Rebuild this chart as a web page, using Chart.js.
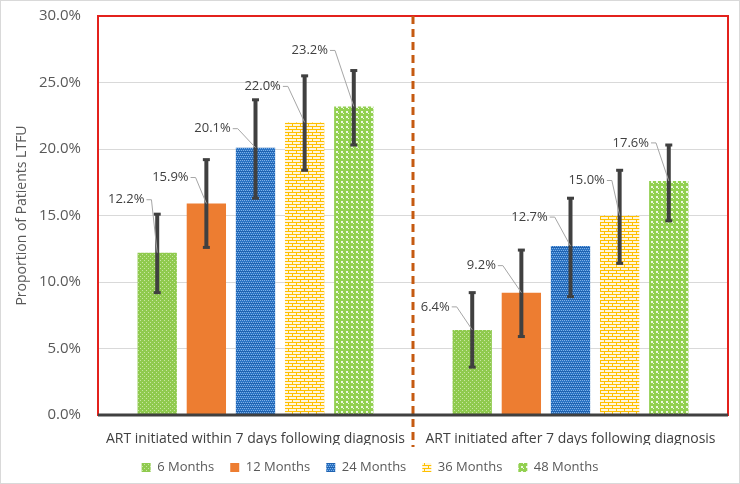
<!DOCTYPE html>
<html>
<head>
<meta charset="utf-8">
<script src="https://cdn.jsdelivr.net/npm/chart.js@4.4.1/dist/chart.umd.min.js"></script>
<style>
  html, body { margin: 0; padding: 0; background: #fff; }
  canvas { display: block; }
</style>
</head>
<body>
<canvas id="chart" width="740" height="484"></canvas>
<script>
// groups on the x axis
const groups = [
  "ART initiated within 7 days following diagnosis",
  "ART initiated after 7 days following diagnosis",
];
const seriesNames = ["6 Months", "12 Months", "24 Months", "36 Months", "48 Months"];

// proportion LTFU (%), one value per group
const m6 = [12.2, 6.4];
const m12 = [15.9, 9.2];
const m24 = [20.1, 12.7];
const m36 = [22.0, 15.0];
const m48 = [23.2, 17.6];

// error bar ends (%)
const m6Low = [9.2, 3.6], m6High = [15.1, 9.2];
const m12Low = [12.6, 5.9], m12High = [19.2, 12.4];
const m24Low = [16.3, 8.9], m24High = [23.7, 16.3];
const m36Low = [18.4, 11.4], m36High = [25.5, 18.4];
const m48Low = [20.3, 14.6], m48High = [25.9, 20.3];

const yTicks = [0, 5, 10, 15, 20, 25, 30];

const FONT = "'Open Sans', sans-serif";

// label placement relative to top-centre of each bar (px), like Excel's dragged labels
const labelOffsets = [
  [[-31, -53], [-37, -23]],
  [[-36, -26], [-40, -27]],
  [[-43, -19], [-41, -29]],
  [[-42, -36], [-33, -35]],
  [[-44, -56], [-38, -38]],
];

function tile(w, h, draw) {
  const c = document.createElement("canvas");
  c.width = w;
  c.height = h;
  const g = c.getContext("2d");
  draw(g);
  return g.createPattern(c, "repeat");
}

const pat6 = tile(4, 4, (g) => {
  g.fillStyle = "#8fca4e";
  g.fillRect(0, 0, 4, 4);
  g.fillStyle = "#c8e6a2";
  g.fillRect(0, 0, 1, 1);
  g.fillRect(2, 2, 1, 1);
});

const pat24 = tile(4, 4, (g) => {
  g.fillStyle = "#2a73c4";
  g.fillRect(0, 0, 4, 4);
  g.fillStyle = "#7fb0e6";
  g.fillRect(0, 0, 1, 1);
  g.fillRect(2, 0, 1, 1);
  g.fillRect(1, 2, 1, 1);
  g.fillRect(3, 2, 1, 1);
  g.fillStyle = "#1f62b0";
  g.fillRect(0, 3, 4, 1);
});

const pat36 = tile(8, 6, (g) => {
  g.fillStyle = "#fff6dc";
  g.fillRect(0, 0, 8, 6);
  g.fillStyle = "#ffc000";
  g.fillRect(0, 0, 8, 1);
  g.fillRect(0, 3, 8, 1);
  g.fillRect(0, 1, 1, 2);
  g.fillRect(4, 4, 1, 2);
});

const pat48 = tile(5, 5, (g) => {
  g.fillStyle = "#92d050";
  g.fillRect(0, 0, 5, 5);
  g.fillStyle = "#eef8e4";
  g.fillRect(1, 1, 2, 2);
  g.fillRect(3, 3, 1, 1);
});

const values = [m6, m12, m24, m36, m48];
const lows = [m6Low, m12Low, m24Low, m36Low, m48Low];
const highs = [m6High, m12High, m24High, m36High, m48High];
const fills = [pat6, "#ed7d31", pat24, pat36, pat48];

const decor = {
  id: "decor",
  beforeDraw(chart) {
    const ctx = chart.ctx;
    ctx.save();
    ctx.fillStyle = "#fff";
    ctx.fillRect(0, 0, chart.width, chart.height);
    ctx.strokeStyle = "#d9d9d9";
    ctx.lineWidth = 1;
    ctx.strokeRect(0.5, 0.5, chart.width - 1, chart.height - 1);
    ctx.restore();
  },
  beforeDatasetsDraw(chart) {
    const { ctx, chartArea: a } = chart;
    ctx.save();
    // red plot frame
    ctx.strokeStyle = "#e3211c";
    ctx.lineWidth = 2;
    ctx.strokeRect(a.left, a.top, a.right - a.left, a.bottom - a.top);
    // dashed divider between the two groups
    const mid = (a.left + a.right) / 2;
    ctx.strokeStyle = "#c55a11";
    ctx.lineWidth = 3;
    ctx.setLineDash([8, 5]);
    ctx.beginPath();
    ctx.moveTo(mid, a.top);
    ctx.lineTo(mid, a.bottom + 32);
    ctx.stroke();
    ctx.restore();
  },
  afterDatasetsDraw(chart) {
    const { ctx, chartArea: a } = chart;
    const y = chart.scales.y;
    ctx.save();
    // category axis line
    ctx.strokeStyle = "#404040";
    ctx.lineWidth = 3;
    ctx.beginPath();
    ctx.moveTo(a.left, a.bottom);
    ctx.lineTo(a.right, a.bottom);
    ctx.stroke();

    values.forEach((vals, di) => {
      const meta = chart.getDatasetMeta(di);
      meta.data.forEach((bar, i) => {
        const x = bar.x;
        // error bar
        const yHi = y.getPixelForValue(highs[di][i]);
        const yLo = y.getPixelForValue(lows[di][i]);
        ctx.strokeStyle = "#404040";
        ctx.lineWidth = 4;
        ctx.beginPath();
        ctx.moveTo(x, yHi);
        ctx.lineTo(x, yLo);
        ctx.stroke();
        ctx.fillStyle = "#404040";
        ctx.fillRect(x - 3.5, yHi - 1.5, 7, 3);
        ctx.fillRect(x - 3.5, yLo - 1.5, 7, 3);

        // data label + leader line
        const [dx, dy] = labelOffsets[di][i];
        const txt = vals[i].toFixed(1) + "%";
        ctx.font = "13px " + FONT;
        const w = ctx.measureText(txt).width;
        const lx = bar.x + dx, ly = bar.y + dy;
        ctx.fillStyle = "#404040";
        ctx.textAlign = "center";
        ctx.textBaseline = "middle";
        ctx.fillText(txt, lx, ly);
        ctx.strokeStyle = "#a6a6a6";
        ctx.lineWidth = 1;
        ctx.beginPath();
        ctx.moveTo(lx + w / 2 + 2, ly);
        ctx.lineTo(lx + w / 2 + 7, ly);
        ctx.lineTo(bar.x, bar.y);
        ctx.stroke();
      });
    });
    ctx.restore();
  },
};

new Chart(document.getElementById("chart"), {
  type: "bar",
  data: {
    labels: groups,
    datasets: values.map((vals, i) => ({
      label: seriesNames[i],
      data: vals,
      backgroundColor: fills[i],
      borderWidth: 0,
      categoryPercentage: 0.78,
      barPercentage: 0.8,
    })),
  },
  options: {
    responsive: false,
    animation: false,
    devicePixelRatio: 1,
    layout: { padding: { top: 16, right: 0, left: 0, bottom: 0 } },
    scales: {
      x: {
        grid: { display: false },
        border: { display: false },
        ticks: { color: "#404040", font: { family: FONT, size: 14 }, padding: 8, maxRotation: 0 },
        afterFit(s) { s.height = 30; },
      },
      y: {
        min: 0,
        max: 30,
        afterBuildTicks(s) { s.ticks = yTicks.map((v) => ({ value: v })); },
        grid: { color: "#d9d9d9", drawTicks: true, tickLength: 17, tickColor: "rgba(0,0,0,0)" },
        border: { display: false },
        ticks: {
          color: "#595959",
          font: { family: FONT, size: 15 },
          padding: 0,
          callback: (v) => v.toFixed(1) + "%",
        },
        title: {
          display: true,
          text: "Proportion of Patients LTFU",
          color: "#595959",
          font: { family: FONT, size: 14 },
          padding: { top: 14 },
        },
        afterFit(s) { s.width = 98; },
      },
      // empty right-hand gutter so the legend stays centred on the whole canvas
      gutter: {
        type: "linear",
        position: "right",
        display: true,
        grid: { display: false },
        border: { display: false },
        ticks: { display: false },
        afterFit(s) { s.width = 12; },
      },
    },
    plugins: {
      legend: {
        position: "bottom",
        labels: {
          color: "#595959",
          font: { family: FONT, size: 13 },
          boxWidth: 9,
          boxHeight: 9,
          padding: 16,
        },
      },
      tooltip: { enabled: false },
    },
  },
  plugins: [decor],
});
</script>
</body>
</html>
